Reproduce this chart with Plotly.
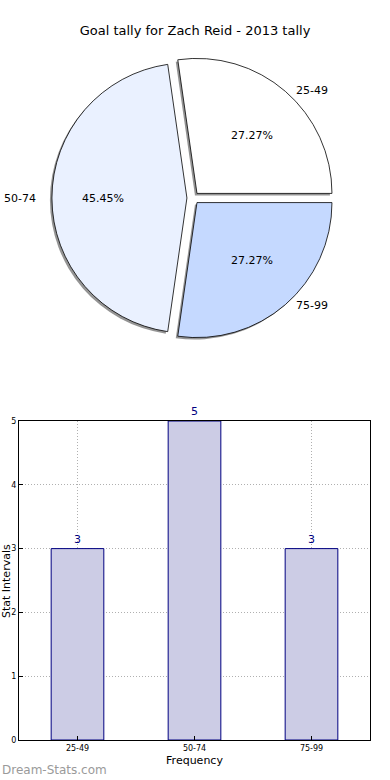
import math
import plotly.graph_objects as go

# ---- data ----
categories = ["25-49", "50-74", "75-99"]
counts = [3, 5, 3]
pie_colors = ["#FFFFFF", "#EAF1FF", "#C5D9FF"]
bar_fill = "#CCCCE5"
bar_edge = "#000080"
title_text = "Goal tally for Zach Reid - 2013 tally"
x_title = "Frequency"
y_title = "Stat Intervals"
watermark = "Dream-Stats.com"

W, H = 390, 780
FONT = "DejaVu Sans"

# pie geometry (pixels)
cx, cy = 193, 198          # centre, from top-left
R = 135                    # slice radius
sy = 0.92                  # vertical squash used for text placement
pull = 0.045
half = R * (1 + pull)
dom_x = [(cx - half) / W, (cx + half) / W]
dom_y = [1 - (cy + half) / H, 1 - (cy - half) / H]
sh = 2.0  # shadow offset px
dom_x_s = [dom_x[0] - sh / W, dom_x[1] - sh / W]
dom_y_s = [dom_y[0] - sh / H, dom_y[1] - sh / H]

total = sum(counts)
# first slice should span 0..its angle counter-clockwise from 3 o'clock
rot = 90 - 360 * counts[0] / total

fig = go.Figure()

# shadow
fig.add_trace(go.Pie(
    labels=categories, values=counts, sort=False, direction="counterclockwise",
    rotation=rot, pull=[pull] * len(counts), textinfo="none", hoverinfo="skip",
    marker=dict(colors=["rgba(60,60,60,0.55)"] * len(counts), line=dict(width=0)),
    domain=dict(x=dom_x_s, y=dom_y_s), showlegend=False,
))
# pie
fig.add_trace(go.Pie(
    labels=categories, values=counts, sort=False, direction="counterclockwise",
    rotation=rot, pull=[pull] * len(counts), textinfo="none",
    marker=dict(colors=pie_colors, line=dict(color="#000000", width=0.8)),
    domain=dict(x=dom_x, y=dom_y), showlegend=False,
))

# pie text annotations computed from data
ang = 0.0
annotations = []
for lab, v in zip(categories, counts):
    frac = v / total
    mid = math.radians(ang + frac * 360 / 2)
    ang += frac * 360
    ox, oy = pull * R * math.cos(mid), pull * R * math.sin(mid)
    # percentage
    px = cx + ox + 0.62 * R * math.cos(mid)
    py = cy - sy * (oy + 0.62 * R * math.sin(mid))
    annotations.append(dict(x=px / W, y=1 - py / H, xref="paper", yref="paper",
                            xanchor="center", yanchor="middle",
                            text=f"{frac*100:.2f}%", showarrow=False,
                            font=dict(family=FONT, size=11, color="#000")))
    # label
    lx = cx + ox + 1.1 * R * math.cos(mid)
    ly = cy - sy * (oy + 1.1 * R * math.sin(mid))
    annotations.append(dict(x=lx / W, y=1 - ly / H, xref="paper", yref="paper",
                            text=lab, showarrow=False, yanchor="middle",
                            xanchor="left" if math.cos(mid) >= 0 else "right",
                            font=dict(family=FONT, size=11, color="#000")))

# bar chart
fig.add_trace(go.Bar(
    x=categories, y=counts, width=0.45,
    marker=dict(color=bar_fill, line=dict(color=bar_edge, width=1)),
    text=[str(c) for c in counts], textposition="outside",
    textfont=dict(family=FONT, size=11, color=bar_edge),
    cliponaxis=False, showlegend=False, xaxis="x", yaxis="y",
))

annotations.append(dict(x=6 / W, y=1 - 581 / H, xref="paper", yref="paper",
                        xanchor="center", yanchor="middle",
                        text=y_title, textangle=-90, showarrow=False,
                        font=dict(family=FONT, size=11, color="#000")))
annotations.append(dict(x=0, y=1 - 770 / H, xref="paper", yref="paper",
                        xanchor="left", yanchor="middle", text=watermark, showarrow=False,
                        font=dict(family=FONT, size=12, color="#9a9a9a")))

grid = dict(showgrid=True, gridcolor="#b0b0b0", griddash="1px,2px", gridwidth=1)

fig.update_layout(
    width=W, height=H, margin=dict(l=0, r=0, t=0, b=0, autoexpand=False),
    paper_bgcolor="white", plot_bgcolor="white",
    title=dict(text=title_text, x=0.5, xanchor="center", y=1 - 30 / H, yanchor="middle",
               font=dict(family=FONT, size=13, color="#000")),
    font=dict(family=FONT),
    xaxis=dict(domain=[19 / W, 370 / W], range=[-0.5, 2.5], type="category",
               showline=True, mirror=True, linecolor="#000", linewidth=1,
               ticks="inside", ticklen=4, tickcolor="#000", automargin=False,
               tickfont=dict(family=FONT, size=8, color="#000"),
               title=dict(text=x_title, standoff=4, font=dict(family=FONT, size=11, color="#000")),
               fixedrange=True, zeroline=False, **grid),
    yaxis=dict(domain=[1 - 740 / H, 1 - 421 / H], range=[0, 5], dtick=1,
               showline=True, mirror=True, linecolor="#000", linewidth=1,
               ticks="inside", ticklen=4, tickcolor="#000", automargin=False,
               tickfont=dict(family=FONT, size=8, color="#000"),
               fixedrange=True, zeroline=False, **grid),
    annotations=annotations,
)

fig.write_html(
    "out.html",
    config={"displayModeBar": False},
    post_script="document.body.style.margin='0';document.body.style.padding='0';"
                "document.body.style.overflow='hidden';",
)
